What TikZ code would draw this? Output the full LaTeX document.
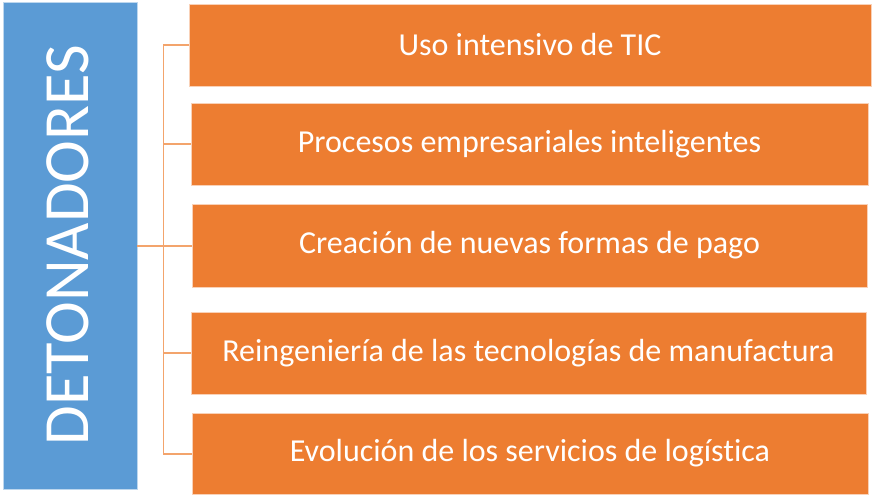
\documentclass[tikz,border=0pt]{standalone}
\usepackage{fontspec}
\setmainfont{Carlito}[Ligatures={NoCommon}]
\definecolor{blueA}{HTML}{5B9BD5}
\definecolor{orangeA}{HTML}{ED7D31}
\definecolor{lineA}{HTML}{F3A46C}
\tikzset{
  itembox/.style={draw=orangeA!35!white, line width=0.8pt, fill=orangeA},
  itemtext/.style={text=white, font=\fontsize{32}{36}\selectfont},
  mainbox/.style={draw=blueA!40!white, line width=0.8pt, fill=blueA},
  link/.style={draw=lineA, line width=1.6pt}
}
\begin{document}
\begin{tikzpicture}[x=1pt,y=-1pt]
\useasboundingbox (0,0) rectangle (873,496);
\path[mainbox] (3,2) rectangle (137,489);
\node[text=white, rotate=90, font=\fontsize{64.5}{68}\selectfont] (main) at (68,245) {DETONADORES};
\coordinate (mainR) at (137,246);
\path[itembox] (189,4) rectangle (871,86);
\node[itemtext] (b1) at (530,45) {Uso intensivo de TIC};
\path[itembox] (191,103) rectangle (868,185);
\node[itemtext] (b2) at (529.5,144) {Procesos empresariales inteligentes};
\path[itembox] (192,204) rectangle (867,287);
\node[itemtext] (b3) at (529.5,245.5) {Creación de nuevas formas de pago};
\path[itembox] (191,312) rectangle (866,394);
\node[itemtext] (b4) at (528.5,353) {Reingeniería de las tecnologías de manufactura};
\path[itembox] (192,413) rectangle (868,494);
\node[itemtext] (b5) at (530,453.5) {Evolución de los servicios de logística};
\coordinate (v) at (163.5,0);
\coordinate (l1) at (189,45);
\coordinate (l2) at (191,144);
\coordinate (l3) at (192,246);
\coordinate (l4) at (191,353);
\coordinate (l5) at (192,454);
\draw[link] (mainR) -- (l3);
\draw[link] (l1) -- (v |- l1) -- (v |- l5) -- (l5);
\draw[link] (v |- l2) -- (l2);
\draw[link] (v |- l4) -- (l4);
\end{tikzpicture}
\end{document}
